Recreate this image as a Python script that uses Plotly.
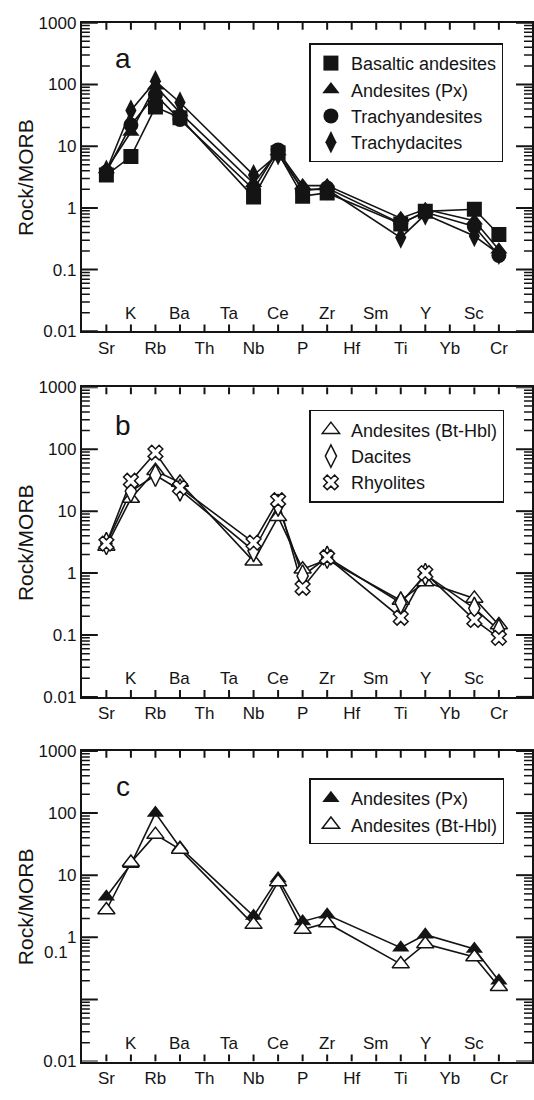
import plotly.graph_objects as go

W, H = 534, 1100

categories = ["Sr", "K", "Rb", "Ba", "Th", "Ta", "Nb", "Ce", "P", "Zr",
              "Hf", "Sm", "Ti", "Y", "Yb", "Sc", "Cr"]
elements = ["Sr", "K", "Rb", "Ba", "Nb", "Ce", "P", "Zr", "Ti", "Y", "Sc", "Cr"]

# Panel a
basaltic_andesites = [3.4, 6.8, 43, 29, 1.5, 7.8, 1.55, 1.75, 0.55, 0.88, 0.95, 0.37]
andesites_px_a = [4.2, 17, 95, 35, 2.5, 8.2, 2.3, 2.3, 0.68, 0.95, 0.62, 0.21]
trachyandesites = [3.8, 22, 68, 27, 2.0, 8.7, 1.9, 2.1, 0.56, 0.85, 0.5, 0.17]
trachydacites = [4.0, 38, 113, 51, 3.4, 7.4, 2.0, 2.0, 0.33, 0.78, 0.35, 0.18]

# Panel b
andesites_bthbl_b = [2.7, 16, 45, 29, 1.55, 8.1, 1.15, 1.65, 0.36, 0.72, 0.39, 0.145]
dacites = [3.0, 21, 38, 22, 2.3, 12.5, 0.9, 1.8, 0.33, 0.95, 0.27, 0.12]
rhyolites = [3.0, 31, 88, 24, 3.1, 15, 0.58, 1.8, 0.19, 1.0, 0.175, 0.09]

# Panel c
andesites_px_c = [4.5, 15, 100, 28, 2.2, 8.8, 1.8, 2.3, 0.68, 1.1, 0.65, 0.20]
andesites_bthbl_c = [2.75, 16, 45, 26, 1.6, 7.8, 1.33, 1.7, 0.37, 0.78, 0.48, 0.16]

y_major = [0.01, 0.1, 1, 10, 100, 1000]
y_labels = ["0.01", "0.1", "1", "10", "100", "1000"]

INK = "#141414"
FONT = "Liberation Sans, Arial, sans-serif"

panels = [
    {"letter": "a", "top": 14, "bottom": 328, "letter_y": 50,
     "legend_top": 35,
     "series": [
         ("Basaltic andesites", basaltic_andesites, "square", True, 15),
         ("Andesites (Px)", andesites_px_a, "triangle-up", True, 15),
         ("Trachyandesites", trachyandesites, "circle", True, 15),
         ("Trachydacites", trachydacites, "diamond-tall", True, 16),
     ]},
    {"letter": "b", "top": 385, "bottom": 700, "letter_y": 424,
     "legend_top": 408,
     "series": [
         ("Andesites (Bt-Hbl)", andesites_bthbl_b, "triangle-up", False, 15),
         ("Dacites", dacites, "diamond-tall", False, 16),
         ("Rhyolites", rhyolites, "x", False, 13),
     ]},
    {"letter": "c", "top": 755, "bottom": 1071, "letter_y": 791,
     "legend_top": 783,
     "series": [
         ("Andesites (Px)", andesites_px_c, "triangle-up", True, 15),
         ("Andesites (Bt-Hbl)", andesites_bthbl_c, "triangle-up", False, 15),
     ]},
]

x_left, x_right = 82, 533
x_range = [-1, 17.35]
y_range = [-2, 3]  # log10 units
xpos = [categories.index(e) for e in elements]
minor_vals = [m * 10 ** e for e in range(-2, 3) for m in range(2, 10)]

fig = go.Figure()
layout = dict(
    width=W, height=H,
    margin=dict(l=0, r=0, t=0, b=0),
    plot_bgcolor="white", paper_bgcolor="white",
)
annotations = []


def frame_ticks(panel_h, with_x, y_vals, y_len, x_len):
    """Segments for the inward frame ticks, in the axes' data units."""
    px_per_x = (x_right - x_left) / (x_range[1] - x_range[0])
    px_per_dec = panel_h / (y_range[1] - y_range[0])
    xs, ys = [], []
    dx = y_len / px_per_x
    for v in y_vals:
        xs += [x_range[0], x_range[0] + dx, None, x_range[1], x_range[1] - dx, None]
        ys += [v, v, None, v, v, None]
    if with_x:
        f = 10 ** (x_len / px_per_dec)
        lo, hi = 10 ** y_range[0], 10 ** y_range[1]
        for k in range(len(categories)):
            xs += [k, k, None, k, k, None]
            ys += [lo, lo * f, None, hi, hi / f, None]
    return xs, ys


for i, p in enumerate(panels, start=1):
    sfx = "" if i == 1 else str(i)
    xa, ya = f"x{sfx}", f"y{sfx}"
    legname = "legend" if i == 1 else f"legend{i}"
    panel_h = p["bottom"] - p["top"]

    # frame ticks (major + element ticks, then minor log ticks)
    tx, ty = frame_ticks(panel_h, True, y_major, 16, 7)
    fig.add_trace(go.Scatter(x=tx, y=ty, mode="lines", xaxis=xa, yaxis=ya,
                             line=dict(color=INK, width=2), showlegend=False,
                             hoverinfo="skip"))
    mx, my = frame_ticks(panel_h, False, minor_vals, 8, 0)
    fig.add_trace(go.Scatter(x=mx, y=my, mode="lines", xaxis=xa, yaxis=ya,
                             line=dict(color=INK, width=1.5), showlegend=False,
                             hoverinfo="skip"))

    for name, vals, sym, filled, size in p["series"]:
        fig.add_trace(go.Scatter(
            x=xpos, y=vals, mode="lines", xaxis=xa, yaxis=ya,
            line=dict(color=INK, width=1.6), showlegend=False))
    for name, vals, sym, filled, size in p["series"]:
        fig.add_trace(go.Scatter(
            x=xpos, y=vals, mode="markers", xaxis=xa, yaxis=ya, name=name,
            legend=legname,
            marker=dict(symbol=sym, size=size,
                        color=INK if filled else "white",
                        line=dict(color=INK, width=0 if filled else 1.5))))
    ydom = [1 - p["bottom"] / H, 1 - p["top"] / H]
    layout[f"xaxis{sfx}"] = dict(
        domain=[x_left / W, x_right / W], anchor=ya,
        range=x_range, tickmode="array",
        tickvals=list(range(len(categories))),
        ticktext=[c if k % 2 == 0 else " " for k, c in enumerate(categories)],
        ticks="", showline=True, linewidth=2, linecolor=INK, mirror=True,
        showgrid=False, zeroline=False,
        tickfont=dict(size=17, color=INK, family=FONT),
    )
    labels = list(y_labels)
    if p["letter"] == "c":
        labels[1] = " "
    layout[f"yaxis{sfx}"] = dict(
        domain=ydom, anchor=xa, type="log", range=y_range,
        tickmode="array", tickvals=y_major, ticktext=labels,
        ticks="", showline=True, linewidth=2, linecolor=INK, mirror=True,
        showgrid=False, zeroline=False,
        tickfont=dict(size=17, color=INK, family=FONT),
    )
    layout[legname] = dict(
        x=310 / W, xanchor="left", y=1 - p["legend_top"] / H, yanchor="top",
        bordercolor=INK, borderwidth=1.5, bgcolor="white",
        font=dict(size=18, color=INK, family=FONT),
        tracegroupgap=0,
    )
    for k, c in enumerate(categories):
        if k % 2 == 1:
            annotations.append(dict(
                x=k, y=0, xref=xa, yref=f"{ya} domain", text=c,
                showarrow=False, yanchor="middle", yshift=18,
                font=dict(size=17, color=INK, family=FONT)))
    annotations.append(dict(
        x=123 / W, y=1 - p["letter_y"] / H, xref="paper", yref="paper",
        text=p["letter"], showarrow=False, xanchor="center", yanchor="middle",
        font=dict(size=28, color=INK, family=FONT)))
    annotations.append(dict(
        x=25 / W, y=1 - (p["top"] + p["bottom"]) / 2 / H, xref="paper",
        yref="paper", text="Rock/MORB", textangle=-90, showarrow=False,
        xanchor="center", yanchor="middle",
        font=dict(size=21, color=INK, family=FONT)))

# misplaced "0.1" label of panel c, as in the original figure
annotations.append(dict(
    x=70 / W, y=1 - 960 / H, xref="paper", yref="paper", text="0.1",
    showarrow=False, xanchor="right", yanchor="middle",
    font=dict(size=17, color=INK, family=FONT)))

layout["annotations"] = annotations
fig.update_layout(**layout)
fig.write_html("out.html")
